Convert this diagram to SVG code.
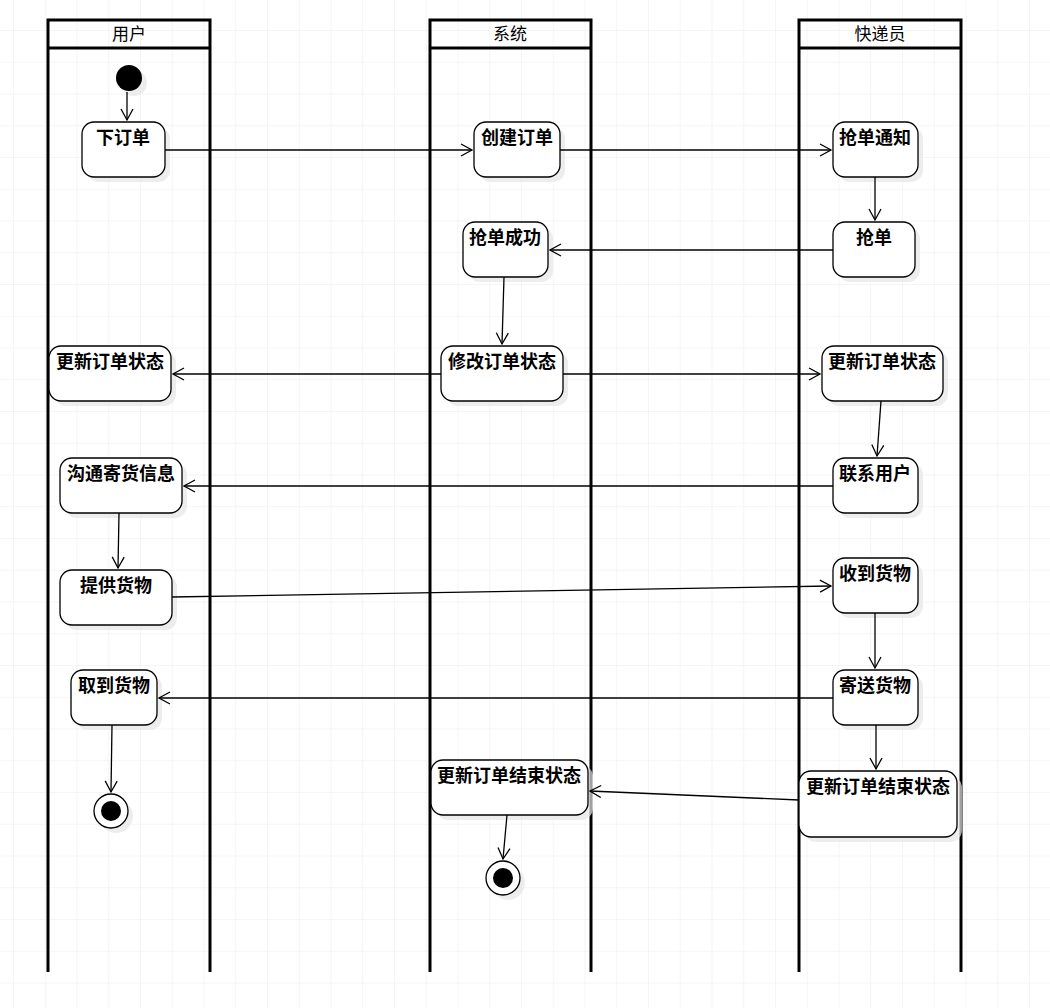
<svg xmlns="http://www.w3.org/2000/svg" width="1050" height="1008" viewBox="0 0 1050 1008">
<defs>
<pattern id="g" x="13" y="30" width="31.75" height="31.75" patternUnits="userSpaceOnUse"><path d="M0 0H31.75M0 0V31.75" fill="none" stroke="#ececec" stroke-width="1"/></pattern>
<marker id="a" markerWidth="14" markerHeight="14" refX="12" refY="7" orient="auto" markerUnits="userSpaceOnUse"><path d="M1 1L12 7L1 13" fill="none" stroke="#000" stroke-width="1.3"/></marker>
</defs>
<style>
.lane{fill:none;stroke:#000;stroke-width:3}
.hd{font-family:"Noto Sans CJK SC","Liberation Sans",sans-serif;font-size:17px;text-anchor:middle}
.n rect.s{fill:#e6e6e6;stroke:none;opacity:.7}
.n rect.b{fill:#fff;stroke:#000;stroke-width:1.3}
.n text{font-family:"Noto Sans CJK SC","Liberation Sans",sans-serif;font-size:18px;font-weight:bold;text-anchor:middle}
.c path{fill:none;stroke:#000;stroke-width:1.3;marker-end:url(#a)}
</style>
<rect width="1050" height="1008" fill="#fff"/>
<rect width="1050" height="1008" fill="url(#g)"/>
<g id="lanes">
<path class="lane" d="M48 972V20H210V972M48 48H210"/>
<path class="lane" d="M430 972V20H591V972M430 48H591"/>
<path class="lane" d="M799 972V20H961V972M799 48H961"/>
<text class="hd" x="129" y="40">用户</text>
<text class="hd" x="510" y="40">系统</text>
<text class="hd" x="880" y="40">快递员</text>
</g>
<g id="start"><circle cx="134" cy="83" r="13" fill="#e6e6e6" opacity=".7"/><circle cx="129" cy="78" r="13" fill="#000"/></g>
<g id="n1" class="n"><rect class="s" x="87" y="127" width="83" height="55" rx="12"/><rect class="b" x="82" y="122" width="83" height="55" rx="12"/><text x="123" y="144">下订单</text></g>
<g id="n2" class="n"><rect class="s" x="479" y="127" width="86" height="55" rx="12"/><rect class="b" x="474" y="122" width="86" height="55" rx="12"/><text x="517" y="144">创建订单</text></g>
<g id="n3" class="n"><rect class="s" x="838" y="127" width="85" height="55" rx="12"/><rect class="b" x="833" y="122" width="85" height="55" rx="12"/><text x="875" y="144">抢单通知</text></g>
<g id="n4" class="n"><rect class="s" x="468" y="227" width="85" height="55" rx="12"/><rect class="b" x="463" y="222" width="85" height="55" rx="12"/><text x="505" y="244">抢单成功</text></g>
<g id="n5" class="n"><rect class="s" x="838" y="227" width="82" height="55" rx="12"/><rect class="b" x="833" y="222" width="82" height="55" rx="12"/><text x="874" y="244">抢单</text></g>
<g id="n6" class="n"><rect class="s" x="446" y="351" width="122" height="55" rx="12"/><rect class="b" x="441" y="346" width="122" height="55" rx="12"/><text x="502" y="368">修改订单状态</text></g>
<g id="n7" class="n"><rect class="s" x="54" y="351" width="122" height="55" rx="12"/><rect class="b" x="49" y="346" width="122" height="55" rx="12"/><text x="110" y="368">更新订单状态</text></g>
<g id="n8" class="n"><rect class="s" x="827" y="351" width="121" height="55" rx="12"/><rect class="b" x="822" y="346" width="121" height="55" rx="12"/><text x="882" y="368">更新订单状态</text></g>
<g id="n9" class="n"><rect class="s" x="838" y="463" width="85" height="55" rx="12"/><rect class="b" x="833" y="458" width="85" height="55" rx="12"/><text x="875" y="480">联系用户</text></g>
<g id="n10" class="n"><rect class="s" x="65" y="463" width="122" height="55" rx="12"/><rect class="b" x="60" y="458" width="122" height="55" rx="12"/><text x="121" y="480">沟通寄货信息</text></g>
<g id="n11" class="n"><rect class="s" x="65" y="575" width="112" height="55" rx="12"/><rect class="b" x="60" y="570" width="112" height="55" rx="12"/><text x="116" y="592">提供货物</text></g>
<g id="n12" class="n"><rect class="s" x="838" y="563" width="85" height="55" rx="12"/><rect class="b" x="833" y="558" width="85" height="55" rx="12"/><text x="875" y="580">收到货物</text></g>
<g id="n13" class="n"><rect class="s" x="76" y="675" width="86" height="55" rx="12"/><rect class="b" x="71" y="670" width="86" height="55" rx="12"/><text x="114" y="692">取到货物</text></g>
<g id="n14" class="n"><rect class="s" x="838" y="675" width="85" height="55" rx="12"/><rect class="b" x="833" y="670" width="85" height="55" rx="12"/><text x="875" y="692">寄送货物</text></g>
<g id="n15" class="n"><rect class="s" x="436" y="765" width="157" height="55" rx="12"/><rect class="b" x="431" y="760" width="157" height="55" rx="12"/><text x="509" y="782">更新订单结束状态</text></g>
<g id="n16" class="n"><rect class="s" x="804" y="776" width="158" height="66" rx="12"/><rect class="b" x="799" y="771" width="158" height="66" rx="12"/><text x="878" y="793">更新订单结束状态</text></g>
<g id="end1"><circle cx="116" cy="816" r="17" fill="#e6e6e6" opacity=".7"/><circle cx="111" cy="811" r="17" fill="#fff" stroke="#000" stroke-width="1.3"/><circle cx="111" cy="811" r="10" fill="#000"/></g>
<g id="end2"><circle cx="508" cy="883" r="17" fill="#e6e6e6" opacity=".7"/><circle cx="503" cy="878" r="17" fill="#fff" stroke="#000" stroke-width="1.3"/><circle cx="503" cy="878" r="10" fill="#000"/></g>
<g id="connectors" class="c">
<path d="M127 92V120"/>
<path d="M165 150H472"/>
<path d="M560 150H831"/>
<path d="M875 177V220"/>
<path d="M833 250H550"/>
<path d="M504 277L502 344"/>
<path d="M441 374H173"/>
<path d="M563 374H820"/>
<path d="M881 401L877 456"/>
<path d="M833 486H184"/>
<path d="M119 513L118 568"/>
<path d="M172 597L831 586"/>
<path d="M875 613V668"/>
<path d="M833 698H159"/>
<path d="M112 725L111 792"/>
<path d="M876 725V769"/>
<path d="M799 800L590 791"/>
<path d="M507 815L503 859"/>
</g>
</svg>
